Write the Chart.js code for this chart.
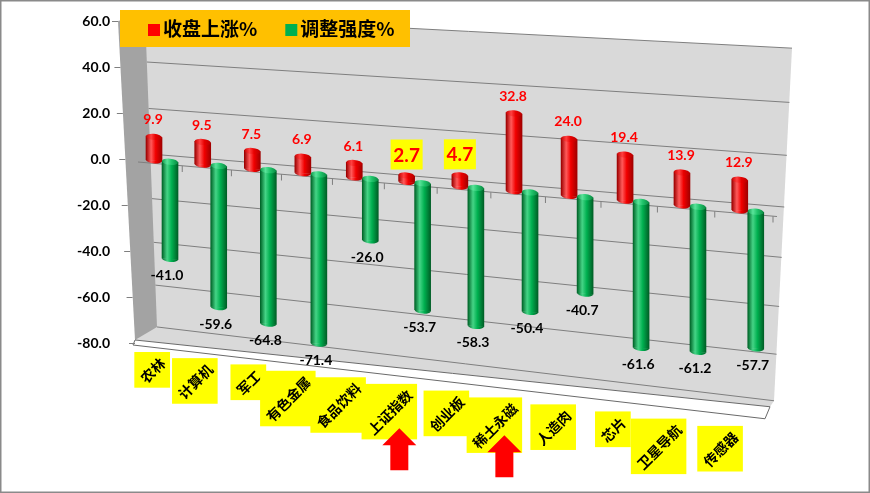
<!DOCTYPE html>
<html>
<head>
<meta charset="utf-8">
<script src="https://cdn.jsdelivr.net/npm/chart.js@4.4.1/dist/chart.umd.min.js"></script>
<style>
html,body{margin:0;padding:0;background:#fff;}
#wrap{width:870px;height:493px;position:relative;overflow:hidden;}
canvas{display:block;}
</style>
</head>
<body>
<div id="wrap"><canvas id="c" width="870" height="493" style="width:870px;height:493px"></canvas></div>
<script>
// ---------------- data ----------------
const categories = ['农林','计算机','军工','有色金属','食品饮料','上证指数','创业板','稀土永磁','人造肉','芯片','卫星导航','传感器'];
const riseValues = [9.9, 9.5, 7.5, 6.9, 6.1, 2.7, 4.7, 32.8, 24.0, 19.4, 13.9, 12.9];
const adjustValues = [-41.0, -59.6, -64.8, -71.4, -26.0, -53.7, -58.3, -50.4, -40.7, -61.6, -61.2, -57.7];
const yTicks = [60, 40, 20, 0, -20, -40, -60, -80];
const seriesNames = ['收盘上涨%', '调整强度%'];
const highlightCats = ['上证指数', '创业板'];
const arrowCats = ['上证指数', '稀土永磁'];

// ---------------- styles ----------------
const LEGEND_COLORS = ['#ff0000', '#00b050'];
const RED_SIDE = ['#9c0000', '#ff5a5a', '#f20000', '#a00000'];
const GREEN_SIDE = ['#006428', '#45d486', '#00b050', '#005f26'];
const RED_TOP = ['#c80000', '#ff4040', '#e80000', '#b80000'];
const GREEN_TOP = ['#0c9a4a', '#5ae39a', '#20c46a', '#0a8a42'];
const BAR_W = 16;
const PERSP = 0.1024;   // horizontal perspective of the category axis
const SKEW = 0.0853;    // floor slope of the bars
const VSCALE = 1.03;    // vertical scale of the bars
const CJK = '"Noto Sans CJK SC"';

// category scale with a perspective spacing
class PerspectiveCategoryScale extends Chart.CategoryScale {
  getPixelForDecimal(d) {
    const w = d * (1 - PERSP) + PERSP * d * d;
    return this._startPixel + w * this._length;
  }
}
PerspectiveCategoryScale.id = 'perspectiveCategory';
PerspectiveCategoryScale.defaults = Chart.CategoryScale.defaults;
Chart.register(PerspectiveCategoryScale);

function grad(ctx, x, w, cols) {
  const g = ctx.createLinearGradient(x - w / 2, 0, x + w / 2, 0);
  g.addColorStop(0, cols[0]);
  g.addColorStop(0.32, cols[1]);
  g.addColorStop(0.6, cols[2]);
  g.addColorStop(1, cols[3]);
  return g;
}

function barFill(cols, di) {
  return (c) => {
    if (c.type !== 'data' || !c.chart.chartArea) return cols[2];
    const xs = c.chart.scales.x;
    const x = xs.getPixelForValue(c.dataIndex) + (di === 0 ? -BAR_W / 2 : BAR_W / 2);
    return grad(c.chart.ctx, x, BAR_W, cols);
  };
}

// screen y of a point drawn in the bar (skewed) space
function toScreenY(chart, x, y) {
  const Z = chart.scales.y.getPixelForValue(0);
  return Z + VSCALE * (y - Z) + SKEW * (x - chart.chartArea.left);
}

function geometry(chart) {
  const ys = chart.scales.y, ca = chart.chartArea;
  const p = v => ys.getPixelForValue(v);
  const Z = p(0);
  const t = v => (p(v) - p(ys.max)) / (p(ys.min) - p(ys.max));
  return {
    p, Z,
    front: v => ({x: ca.left - 20 + 17 * t(v), y: p(v)}),
    backL: v => ({x: ca.left + 7 + 12 * t(v), y: Z - 5 + (p(v) - Z) * (0.98 + 0.0005 * v)}),
    backR: v => ({x: ca.right + 15 - 18 * t(v), y: Z + 48 + (p(v) - Z) * (1.109 + 0.0007 * v)})
  };
}

function poly(ctx, pts, fill, stroke) {
  ctx.beginPath();
  pts.forEach((q, i) => i ? ctx.lineTo(q.x, q.y) : ctx.moveTo(q.x, q.y));
  ctx.closePath();
  if (fill) { ctx.fillStyle = fill; ctx.fill(); }
  if (stroke) { ctx.strokeStyle = stroke; ctx.lineWidth = 1; ctx.stroke(); }
}

function labelAnchor(chart, i) {
  const ca = chart.chartArea;
  const cx = chart.scales.x.getPixelForValue(i);
  const ax = cx + 8 - 0.022 * (cx - ca.left - 24);
  const ay = ca.bottom + 9 + 0.129 * (ax - ca.left - 32);
  return {ax, ay};
}

const decoPlugin = {
  id: 'deco',
  beforeDraw(chart) {
    const ctx = chart.ctx, ca = chart.chartArea, ys = chart.scales.y;
    const g = geometry(chart);
    ctx.save();
    ctx.fillStyle = '#ffffff';
    ctx.fillRect(0, 0, chart.width, chart.height);
    const vT = ys.max, vB = ys.min;
    const frontL = {x: g.front(vB).x, y: g.p(vB) - 3};
    const bR = g.backR(vB);
    const frontR = {x: bR.x - 4, y: bR.y + 6};
    // back wall + floor
    poly(ctx, [g.backL(vT), g.backR(vT), bR, frontR, frontL], '#d9d9d9');
    // gridlines
    ctx.strokeStyle = '#7f7f7f';
    ctx.lineWidth = 1;
    ys.ticks.forEach(tk => {
      const a = g.backL(tk.value), b = g.backR(tk.value);
      ctx.beginPath(); ctx.moveTo(a.x, a.y); ctx.lineTo(b.x, b.y); ctx.stroke();
    });
    // side wall
    poly(ctx, [g.front(vT), g.backL(vT), g.backL(vB), frontL], '#a3a3a3');
    // floor front strip
    poly(ctx, [frontL, frontR, {x: frontR.x - 5, y: frontR.y + 12}, {x: frontL.x - 2, y: frontL.y + 5}], '#ffffff', '#6a6a6a');
    // y tick marks
    ctx.strokeStyle = '#7f7f7f';
    ys.ticks.forEach(tk => {
      const f = g.front(tk.value);
      ctx.beginPath(); ctx.moveTo(f.x - 6, f.y + 0.5); ctx.lineTo(f.x, f.y + 0.5); ctx.stroke();
    });
    // legend
    const lx = ca.left - 18, ly = ca.top - 11;
    ctx.fillStyle = '#ffc000';
    ctx.fillRect(lx, ly, 290, 37);
    ctx.font = 'bold 19px ' + CJK;
    ctx.textBaseline = 'middle';
    ctx.textAlign = 'left';
    let x = lx + 28;
    chart.data.datasets.forEach((ds, i) => {
      ctx.fillStyle = LEGEND_COLORS[i];
      ctx.fillRect(x, ly + 14, 12, 12);
      ctx.fillStyle = '#000000';
      ctx.fillText(ds.label, x + 15, ly + 19);
      x += 15 + ctx.measureText(ds.label).width + 28;
    });
    ctx.restore();
  },
  beforeDatasetsDraw(chart) {
    const ctx = chart.ctx, ca = chart.chartArea, xs = chart.scales.x;
    const Z = chart.scales.y.getPixelForValue(0);
    ctx.save();
    ctx.transform(1, SKEW, 0, VSCALE, 0, Z * (1 - VSCALE) - SKEW * ca.left);
    // category axis line with tick marks
    ctx.strokeStyle = '#7f7f7f';
    ctx.lineWidth = 1;
    const yA = Z + 3;
    ctx.beginPath(); ctx.moveTo(ca.left, yA); ctx.lineTo(ca.right, yA); ctx.stroke();
    for (let i = 0; i < categories.length; i++) {
      const bx = xs.getPixelForValue(i + 0.5) - 4;
      ctx.beginPath(); ctx.moveTo(bx, yA); ctx.lineTo(bx, yA + 6); ctx.stroke();
    }
  },
  afterDatasetsDraw(chart) {
    const ctx = chart.ctx;
    // cylinder caps (still in bar space)
    chart.data.datasets.forEach((ds, di) => {
      const meta = chart.getDatasetMeta(di);
      const side = di === 0 ? RED_SIDE : GREEN_SIDE;
      const topc = di === 0 ? RED_TOP : GREEN_TOP;
      meta.data.forEach(el => {
        const top = Math.min(el.y, el.base), bot = Math.max(el.y, el.base);
        const rx = el.width / 2, ry = 3;
        ctx.fillStyle = grad(ctx, el.x, el.width, side);
        ctx.beginPath(); ctx.ellipse(el.x, bot, rx, ry, 0, 0, Math.PI); ctx.fill();
        ctx.fillStyle = grad(ctx, el.x, el.width, topc);
        ctx.beginPath(); ctx.ellipse(el.x, top, rx, ry, 0, 0, Math.PI * 2); ctx.fill();
      });
    });
    ctx.restore();
    // value labels (screen space)
    ctx.save();
    ctx.textAlign = 'center';
    ctx.textBaseline = 'middle';
    const m0 = chart.getDatasetMeta(0), m1 = chart.getDatasetMeta(1);
    m0.data.forEach((el, i) => {
      const topS = toScreenY(chart, el.x, Math.min(el.y, el.base)) - 3;
      const txt = riseValues[i].toFixed(1);
      if (highlightCats.includes(categories[i])) {
        const cy = topS - 18;
        ctx.fillStyle = '#ffff00';
        ctx.fillRect(el.x - 16, cy - 15, 32, 30);
        ctx.fillStyle = '#ff0000';
        ctx.font = 'bold 19px Lato';
        ctx.fillText(txt, el.x, cy + 1);
      } else {
        ctx.fillStyle = '#ff0000';
        ctx.font = 'bold 14px Lato';
        ctx.fillText(txt, el.x - 1, topS - 14);
      }
    });
    m1.data.forEach((el, i) => {
      const botS = toScreenY(chart, el.x, Math.max(el.y, el.base)) + 3;
      ctx.fillStyle = '#000000';
      ctx.font = 'bold 14px Lato';
      ctx.fillText(adjustValues[i].toFixed(1), el.x - 3, botS + 14);
    });
    ctx.restore();
  },
  afterDraw(chart) {
    const ctx = chart.ctx, ca = chart.chartArea;
    ctx.save();
    // category labels on yellow boxes
    ctx.font = 'bold 14px ' + CJK;
    const boxes = {};
    categories.forEach((name, i) => {
      const {ax, ay} = labelAnchor(chart, i);
      const tw = ctx.measureText(name).width;
      const s = (tw + 14) / Math.SQRT2 + 6;
      boxes[name] = {ax, ay, s};
      ctx.fillStyle = '#ffff00';
      ctx.fillRect(ax - s, ay, s, s);
      ctx.save();
      ctx.translate(ax - s / 2, ay + s / 2);
      ctx.rotate(-Math.PI / 4);
      ctx.fillStyle = '#000000';
      ctx.textAlign = 'center';
      ctx.textBaseline = 'middle';
      ctx.fillText(name, 0, 1);
      ctx.restore();
    });
    // red arrows
    arrowCats.forEach(name => {
      const b = boxes[name];
      const cx = b.ax - b.s / 2 + 10;
      const top = ca.bottom + 85 + 0.067 * (cx - ca.left - 258);
      ctx.fillStyle = '#ff0000';
      ctx.beginPath();
      ctx.moveTo(cx, top);
      ctx.lineTo(cx + 17, top + 17);
      ctx.lineTo(cx + 9, top + 17);
      ctx.lineTo(cx + 9, top + 42);
      ctx.lineTo(cx - 9, top + 42);
      ctx.lineTo(cx - 9, top + 17);
      ctx.lineTo(cx - 17, top + 17);
      ctx.closePath();
      ctx.fill();
    });
    // outer border
    ctx.strokeStyle = '#8a8a8a';
    ctx.lineWidth = 1.5;
    ctx.strokeRect(0.75, 0.75, chart.width - 1.5, chart.height - 1.5);
    ctx.restore();
  }
};

new Chart(document.getElementById('c'), {
  type: 'bar',
  data: {
    labels: categories,
    datasets: [
      {label: seriesNames[0], data: riseValues, backgroundColor: barFill(RED_SIDE, 0), borderWidth: 0, barThickness: BAR_W},
      {label: seriesNames[1], data: adjustValues, backgroundColor: barFill(GREEN_SIDE, 1), borderWidth: 0, barThickness: BAR_W}
    ]
  },
  options: {
    responsive: false,
    animation: false,
    devicePixelRatio: 1,
    layout: {padding: {top: 21, right: 93, bottom: 0, left: 0}},
    plugins: {
      tooltip: {enabled: false},
      legend: {display: false}
    },
    scales: {
      x: {
        type: 'perspectiveCategory',
        offset: true,
        grid: {display: false, drawTicks: false},
        border: {display: false},
        ticks: {display: false},
        afterFit: s => { s.height = 150; }
      },
      y: {
        min: Math.min(...yTicks),
        max: Math.max(...yTicks),
        grid: {display: false, drawTicks: false},
        border: {display: false},
        ticks: {
          stepSize: yTicks[0] - yTicks[1],
          callback: v => Number(v).toFixed(1),
          font: {family: 'Lato', size: 14, weight: 'bold'},
          color: '#000000',
          padding: 28
        },
        afterFit: s => { s.width = 138; s.paddingTop = 8; s.paddingBottom = 8; }
      }
    }
  },
  plugins: [decoPlugin]
});
</script>
</body>
</html>
